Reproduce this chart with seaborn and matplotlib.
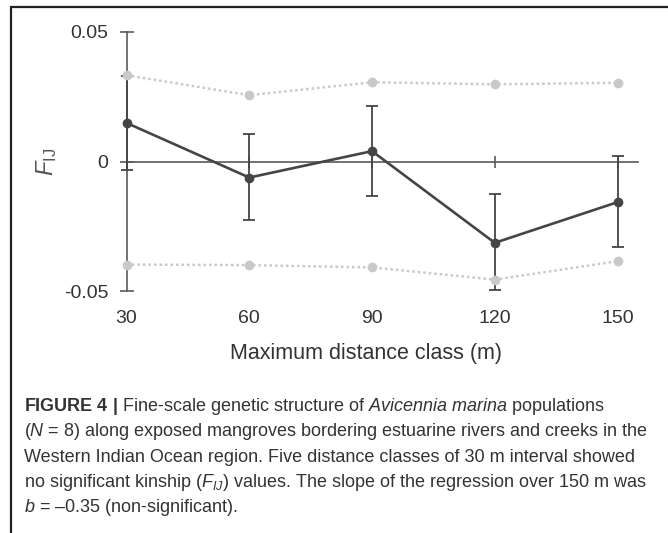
import matplotlib
matplotlib.use("Agg")
import matplotlib.pyplot as plt
import seaborn as sns
import pandas as pd
from matplotlib.patches import Rectangle

# ---- data ----
distance_class = [30, 60, 90, 120, 150]
fij_mean = [0.0149, -0.0062, 0.0040, -0.0314, -0.0157]
ci_lower = [-0.0034, -0.0224, -0.0134, -0.0497, -0.0332]
ci_upper = [0.0330, 0.0107, 0.0215, -0.0125, 0.0022]
upper_envelope = [0.0333, 0.0256, 0.0306, 0.0298, 0.0304]
lower_envelope = [-0.0398, -0.0400, -0.0409, -0.0456, -0.0385]
ytick_values = [-0.05, 0, 0.05]
ytick_labels = ["-0.05", "0", "0.05"]
xlabel_text = "Maximum distance class (m)"
ylabel_text = r"$\mathit{F}_{\mathrm{IJ}}$"
caption_lines = [
    r"$\mathbf{FIGURE\ 4\ |}$ Fine-scale genetic structure of $\mathit{Avicennia\ marina}$ populations",
    r"($\mathit{N}$ = 8) along exposed mangroves bordering estuarine rivers and creeks in the",
    "Western Indian Ocean region. Five distance classes of 30 m interval showed",
    r"no significant kinship ($\mathit{F}_{\mathit{IJ}}$) values. The slope of the regression over 150 m was",
    r"$\mathit{b}$ = –0.35 (non-significant).",
]

sns.set_style("white")
plt.rcParams["font.family"] = ["Liberation Sans", "DejaVu Sans"]
plt.rcParams["mathtext.fontset"] = "custom"
plt.rcParams["mathtext.rm"] = "Liberation Sans"
plt.rcParams["mathtext.it"] = "Liberation Sans:italic"
plt.rcParams["mathtext.bf"] = "Liberation Sans:bold"

df = pd.DataFrame({"dist": distance_class, "mean": fij_mean,
                   "upper": upper_envelope, "lower": lower_envelope})

W, H = 668, 533
fig = plt.figure(figsize=(W / 100, H / 100), dpi=100)
fig.patch.set_facecolor("white")
ax = fig.add_axes([126.5 / W, (H - 291) / H, (638 - 126.5) / W, (291 - 32) / H])

dark = "#454545"
grey = "#c9c9c9"
axis_col = "#5a5a5a"
text_col = "#333333"

yerr = [[m - lo for m, lo in zip(fij_mean, ci_lower)],
        [hi - m for m, hi in zip(fij_mean, ci_upper)]]
ax.errorbar(df["dist"], df["mean"], yerr=yerr, fmt="none", ecolor=dark,
            elinewidth=1.3, capsize=4.2, capthick=1.3, zorder=2, clip_on=False)

sns.lineplot(data=df, x="dist", y="mean", ax=ax, color=dark, lw=1.9,
             marker="o", markersize=7, markeredgewidth=0, zorder=3)
sns.lineplot(data=df, x="dist", y="upper", ax=ax, color=grey, lw=1.8,
             linestyle=(0, (1, 1.2)), marker="o", markersize=7,
             markeredgewidth=0, zorder=4)
sns.lineplot(data=df, x="dist", y="lower", ax=ax, color=grey, lw=1.8,
             linestyle=(0, (1, 1.2)), marker="o", markersize=7,
             markeredgewidth=0, zorder=4)
for ln in ax.lines:
    ln.set_clip_on(False)

ax.set_xlim(30, 155)
ax.set_ylim(-0.05, 0.05)

for s in ["top", "right"]:
    ax.spines[s].set_visible(False)
ax.spines["left"].set_color(axis_col)
ax.spines["left"].set_linewidth(1.2)
ax.spines["bottom"].set_position(("data", 0))
ax.spines["bottom"].set_color(axis_col)
ax.spines["bottom"].set_linewidth(1.2)
ax.spines["left"].set_zorder(1)
ax.spines["bottom"].set_zorder(1)

ax.set_xticks(distance_class)
ax.tick_params(axis="x", bottom=True, direction="inout", length=9, width=1.2,
               color=axis_col, labelbottom=False)
ax.set_yticks(ytick_values)
ax.set_yticklabels(ytick_labels)
ax.tick_params(axis="y", left=True, direction="inout", length=10, width=1.2,
               color=axis_col, labelsize=14, labelcolor=text_col, pad=8)

sec = ax.secondary_xaxis(0)
sec.set_xticks(distance_class)
sec.set_xticklabels([str(v) for v in distance_class])
sec.tick_params(length=0, labelsize=14, labelcolor=text_col, pad=14)
sec.spines["bottom"].set_visible(False)

ax.set_xlabel(xlabel_text, fontsize=15.5, color=text_col)
ax.xaxis.set_label_coords(0.468, -0.2)
ax.set_ylabel(ylabel_text, fontsize=17, color="#555555")
ax.yaxis.set_label_coords(-0.132, 0.5)

# frame around figure
fig.patches.append(Rectangle((11 / W, -0.05), 1.1, (H - 7) / H + 0.05,
                             transform=fig.transFigure, fill=False,
                             edgecolor="#222222", linewidth=1.6))

for i, line in enumerate(caption_lines):
    fig.text(24 / W, 1 - (411 + 25.3 * i) / H, line, fontsize=13,
             color=text_col, va="baseline", ha="left")

fig.savefig("out.png", dpi=100)
